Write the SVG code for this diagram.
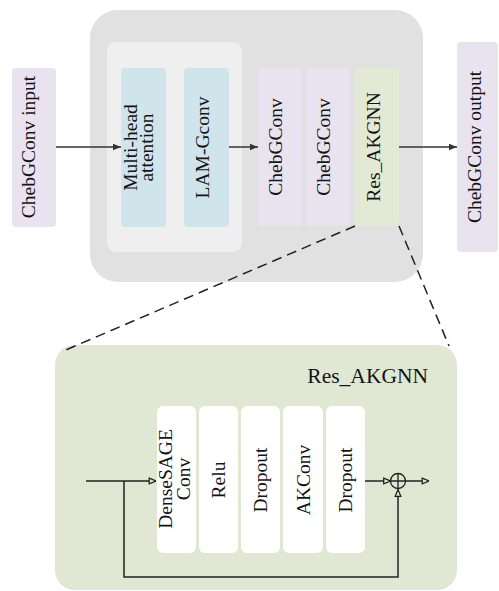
<svg xmlns="http://www.w3.org/2000/svg" width="499" height="591" viewBox="0 0 499 591">
  <style>
    .t { font-family: "Liberation Serif", "Times New Roman", serif; font-size: 19.5px; fill: #141414; text-anchor: middle; }
    .lbl { font-family: "Liberation Serif", "Times New Roman", serif; font-size: 21.5px; fill: #141414; text-anchor: end; }
    .io { fill: #e8e3ef; }
    .att { fill: #cfe5eb; }
    .res { fill: #e2ead6; }
    .blk { fill: #ffffff; }
    .ln { fill: none; stroke: #333; stroke-width: 1.5; }
    .ln2 { fill: none; stroke: #222; stroke-width: 1.5; }
    .dash { fill: none; stroke: #222; stroke-width: 1.5; stroke-dasharray: 10 6; }
  </style>
  <defs>
    <marker id="solid" viewBox="0 0 10 10" refX="10" refY="5" markerWidth="8" markerHeight="8" markerUnits="userSpaceOnUse" orient="auto">
      <path d="M0,1 L10,5 L0,9 Z" fill="#333"/>
    </marker>
    <marker id="open" viewBox="0 0 10 10" refX="9.5" refY="5" markerWidth="8" markerHeight="8" markerUnits="userSpaceOnUse" orient="auto">
      <path d="M1,1.5 L9.5,5 L1,8.5 Z" fill="#e0e8d4" stroke="#222" stroke-width="1.6"/>
    </marker>
  </defs>

  <!-- upper pipeline container -->
  <rect id="container" x="90" y="10" width="333" height="272" rx="28" fill="#e1e1e1"/>
  <rect id="attention-group" x="107" y="42" width="135" height="210" rx="9" fill="#efefef"/>

  <g id="input">
    <rect class="io" x="12" y="68" width="44" height="159" rx="4"/>
    <text class="t" transform="translate(34,147) rotate(-90)" y="1">ChebGConv input</text>
  </g>
  <g id="mha">
    <rect class="att" x="121" y="68" width="45" height="159" rx="4"/>
    <text class="t" transform="translate(143.5,147.5) rotate(-90)"><tspan x="0" y="-7">Multi-head</tspan><tspan x="0" y="9.5">attention</tspan></text>
  </g>
  <g id="lam">
    <rect class="att" x="184" y="68" width="45" height="159" rx="4"/>
    <text class="t" transform="translate(206.5,147.5) rotate(-90)" y="2">LAM-Gconv</text>
  </g>
  <g id="cheb1">
    <rect class="io" x="258" y="68" width="44" height="158" rx="4"/>
    <text class="t" transform="translate(280,147) rotate(-90)" y="2">ChebGConv</text>
  </g>
  <g id="cheb2">
    <rect class="io" x="306" y="68" width="44" height="158" rx="4"/>
    <text class="t" transform="translate(328,147) rotate(-90)" y="2">ChebGConv</text>
  </g>
  <g id="res">
    <rect class="res" x="355" y="68" width="44" height="158" rx="4"/>
    <text class="t" transform="translate(377,147) rotate(-90)" y="3">Res_AKGNN</text>
  </g>
  <g id="output">
    <rect class="io" x="457" y="42" width="41" height="210" rx="4"/>
    <text class="t" transform="translate(477.5,147) rotate(-90)" y="3">ChebGConv output</text>
  </g>

  <!-- expanded Res_AKGNN block -->
  <g id="res-detail">
    <rect x="55" y="345" width="402" height="245" rx="20" fill="#e0e8d4"/>
    <text class="lbl" x="428" y="383">Res_AKGNN</text>
  </g>
  <g id="densesage">
    <rect class="blk" x="157" y="406" width="39" height="147" rx="6"/>
    <text class="t" transform="translate(176.5,479) rotate(-90)"><tspan x="0" y="-5">DenseSAGE</tspan><tspan x="0" y="13">Conv</tspan></text>
  </g>
  <g id="relu">
    <rect class="blk" x="199" y="406" width="39" height="147" rx="6"/>
    <text class="t" transform="translate(218.5,480) rotate(-90)" y="6.5">Relu</text>
  </g>
  <g id="dropout1">
    <rect class="blk" x="241" y="406" width="39" height="147" rx="6"/>
    <text class="t" transform="translate(260.5,480) rotate(-90)" y="6.5">Dropout</text>
  </g>
  <g id="akconv">
    <rect class="blk" x="283" y="406" width="40" height="147" rx="6"/>
    <text class="t" transform="translate(303,480) rotate(-90)" y="6.5">AKConv</text>
  </g>
  <g id="dropout2">
    <rect class="blk" x="326" y="406" width="39" height="147" rx="6"/>
    <text class="t" transform="translate(345.5,480) rotate(-90)" y="6">Dropout</text>
  </g>
  <g id="sum">
    <circle cx="398" cy="481" r="7.5" fill="none" stroke="#222" stroke-width="1.3"/>
    <path d="M390.5,481 H405.5 M398,473.5 V488.5" stroke="#222" stroke-width="1.3"/>
  </g>

  <g id="connectors">
    <path class="ln" d="M56,147 H121" marker-end="url(#solid)"/>
    <path class="ln" d="M229,147 H258" marker-end="url(#solid)"/>
    <path class="ln" d="M399,147 H457" marker-end="url(#solid)"/>
    <path class="dash" d="M355,226 L61,352"/>
    <path class="dash" d="M399,226 L449,346"/>
    <path class="ln2" d="M86,481 H156" marker-end="url(#open)"/>
    <path class="ln2" d="M124,481 V577 H398 V489.5" marker-end="url(#open)"/>
    <path class="ln2" d="M365,481 H390.5" marker-end="url(#open)"/>
    <path class="ln2" d="M405.5,481 H429" marker-end="url(#open)"/>
  </g>
</svg>
